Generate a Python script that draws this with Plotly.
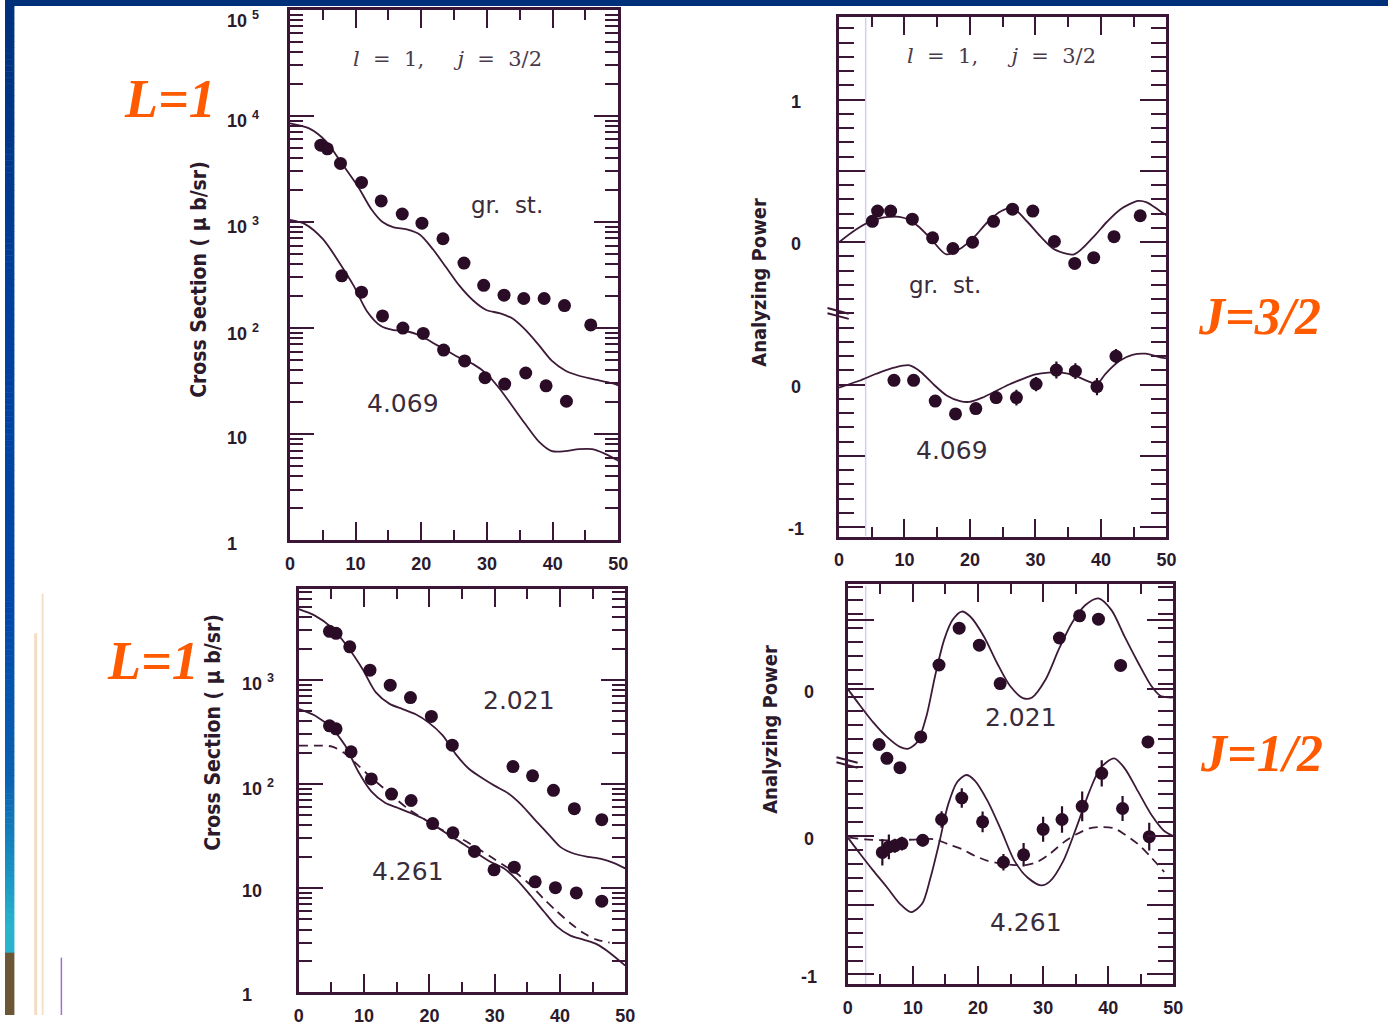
import math
import plotly.graph_objects as go

W, H = 1398, 1026

# ---------------- data ----------------
# Top-left: cross sections, l = 1, j = 3/2
tl_gs_ang = [4.7, 5.7, 7.7, 10.9, 13.9, 17.1, 20.1, 23.3, 26.5, 29.5, 32.6, 35.6, 38.7, 41.8, 45.8]
tl_gs_xs = [5300, 4900, 3570, 2360, 1580, 1190, 975, 695, 410, 253, 204, 190, 190, 163, 107]
tl_gs_fit_ang = [0, 3, 5.5, 7.7, 10.4, 12.4, 14.1, 15.8, 17.8, 19.8, 21.8, 23.8, 25.8, 27.9,
                 29.9, 31.9, 33.9, 35.9, 37.9, 39.9, 41.9, 44.0, 46.0, 49, 50]
tl_gs_fit = [8510, 7590, 5750, 3720, 2140, 1320, 1000, 891, 851, 759, 550, 372, 251, 182,
             148, 138, 123, 95.5, 69, 49, 39.8, 35.5, 33.1, 30.2, 28.8]

tl_ex_ang = [7.9, 10.9, 14.1, 17.2, 20.3, 23.4, 26.6, 29.7, 32.7, 35.9, 39.0, 42.1]
tl_ex_xs = [311, 218, 130, 100, 89, 62, 49, 34, 29.6, 37.7, 28.5, 20.4]
tl_ex_fit_ang = [0, 2.3, 5.0, 7.7, 9.7, 11.7, 13.8, 15.8, 17.8, 19.8, 21.8, 23.8, 25.8, 27.9,
                 29.9, 31.9, 33.9, 35.9, 37.9, 39.9, 41.9, 44.0, 46.0, 48.0, 50]
tl_ex_fit = [1047, 955, 692, 398, 251, 145, 105, 95.5, 93.3, 85.1, 72.4, 61.7, 52.5, 45.7,
             37.2, 26.9, 18.2, 12.3, 8.5, 6.9, 6.9, 7.2, 7.2, 6.5, 5.6]

# Top-right: analyzing power, l = 1, j = 3/2 (upper set shifted by TR_SHIFT)
TR_SHIFT = 1.0
tr_gs_ang = [5.1, 5.9, 7.9, 11.2, 14.3, 17.4, 20.4, 23.6, 26.5, 29.6, 32.9, 36.0, 38.9, 42.0, 46.0]
tr_gs_ap = [0.147, 0.219, 0.219, 0.162, 0.031, -0.044, 0.0, 0.147, 0.232, 0.219, 0.005,
            -0.149, -0.108, 0.039, 0.186]
tr_gs_fit_ang = [0, 2.6, 5.3, 7.9, 10.0, 12.0, 14.0, 16.4, 18.7, 20.7, 22.7, 24.8, 26.5, 28.8,
                 30.8, 32.9, 35.9, 38.9, 40.9, 43.0, 45.7, 47.0, 49.0, 50]
tr_gs_fit = [0.0, 0.09, 0.155, 0.18, 0.17, 0.116, 0.026, -0.085, -0.04, 0.039, 0.142, 0.219,
             0.24, 0.142, 0.039, -0.05, -0.085, 0.039, 0.142, 0.232, 0.29, 0.28, 0.22, 0.19]

tr_ex_ang = [8.4, 11.4, 14.7, 17.8, 20.9, 24.0, 27.1, 30.1, 33.2, 36.1, 39.4, 42.3]
tr_ex_ap = [0.031, 0.031, -0.115, -0.205, -0.167, -0.09, -0.09, 0.005, 0.103, 0.095, -0.013, 0.2]
tr_ex_err = [0.03, 0.03, 0.035, 0.035, 0.035, 0.045, 0.055, 0.05, 0.06, 0.055, 0.06, 0.05]
tr_ex_fit_ang = [0, 3.0, 5.7, 8.4, 10.8, 12.5, 14.5, 16.5, 18.5, 19.9, 21.9, 23.9, 25.9, 27.9,
                 30.0, 32.0, 34.0, 36.0, 38.0, 39.4, 40.7, 42.8, 44.8, 46.8, 49.2, 50]
tr_ex_fit = [-0.02, 0.026, 0.077, 0.12, 0.136, 0.09, 0.0, -0.077, -0.115, -0.12, -0.09, -0.046,
             0.0, 0.038, 0.072, 0.085, 0.085, 0.064, 0.026, 0.005, 0.077, 0.167, 0.21, 0.218,
             0.19, 0.185]

# Bottom-left: cross sections, j = 1/2 states
bl_a_ang = [4.7, 5.7, 7.8, 10.9, 14.0, 17.1, 20.3, 23.5, 32.8, 35.8, 39.0, 42.2, 46.4]
bl_a_xs = [2930, 2800, 2080, 1240, 890, 677, 446, 236, 147, 120, 87, 58, 45.5]
bl_a_fit_ang = [0, 2.4, 5.1, 7.8, 9.8, 11.8, 13.9, 15.9, 17.9, 19.9, 22.0, 24.0, 26.0, 28.0,
                30.1, 32.1, 34.1, 36.1, 38.2, 40.2, 42.2, 44.3, 46.3, 48.3, 50]
bl_a_fit = [4790, 4170, 3160, 1950, 1260, 759, 589, 525, 468, 389, 295, 195, 141, 115,
            95.5, 81.3, 63.1, 45.7, 33.1, 24.5, 21.4, 20.0, 19.1, 17.4, 15.5]

bl_b_ang = [4.7, 5.7, 8.0, 11.1, 14.2, 17.2, 20.5, 23.6, 26.9, 29.9, 33.0, 36.2, 39.3, 42.5, 46.4]
bl_b_xs = [362, 339, 204, 112, 80, 69.5, 41.7, 34, 22.5, 15, 15.9, 11.5, 10.1, 9.0, 7.5]
bl_b_fit_ang = [0, 2.4, 5.1, 7.1, 9.1, 11.1, 13.2, 15.2, 17.2, 19.3, 21.3, 23.3, 25.3, 27.4,
                29.4, 31.4, 33.4, 35.5, 37.5, 39.5, 41.6, 43.6, 45.6, 47.6, 50]
bl_b_fit = [525, 457, 339, 234, 132, 85.1, 66.1, 58.9, 52.5, 45.7, 38.0, 31.6, 26.3, 21.4,
            17.8, 15.5, 12.0, 8.5, 6.0, 4.3, 3.5, 3.2, 2.9, 2.4, 1.8]
bl_b_alt_ang = [0, 2.4, 5.1, 7.1, 9.1, 11.1, 13.2, 15.2, 17.2, 19.3, 21.3, 23.3, 25.3, 27.4,
                29.4, 31.4, 33.4, 35.5, 37.5, 39.5, 41.6, 43.6, 45.6, 47.6]
bl_b_alt = [234, 234, 229, 195, 151, 115, 89, 69, 55, 45.7, 38, 33.1, 28.8, 24,
            20, 16.6, 13.8, 10.7, 7.9, 6.0, 4.6, 3.7, 3.2, 3.0]

# Bottom-right: analyzing power, j = 1/2 states (upper set shifted by BR_SHIFT)
BR_SHIFT = 1.06
br_a_ang = [4.8, 6.0, 8.0, 11.2, 14.0, 17.1, 20.2, 23.4, 32.5, 35.6, 38.5, 41.9, 46.1]
br_a_ap = [-0.40, -0.50, -0.567, -0.345, 0.174, 0.44, 0.317, 0.04, 0.369, 0.529, 0.505,
           0.171, -0.381]
br_a_fit_ang = [0, 1.9, 3.9, 6.0, 8.0, 9.3, 10.7, 12.1, 13.4, 14.8, 16.1, 17.5, 18.8, 20.9,
                22.9, 24.9, 27.0, 28.3, 30.4, 32.4, 34.4, 36.5, 38.5, 40.5, 42.5, 44.6, 46.6,
                48.0, 49.3, 50]
br_a_fit = [0, -0.12, -0.24, -0.345, -0.417, -0.43, -0.38, -0.19, 0.095, 0.357, 0.5, 0.56,
            0.524, 0.38, 0.19, 0.024, -0.067, -0.06, 0.071, 0.286, 0.476, 0.607, 0.655, 0.57,
            0.38, 0.19, 0.024, -0.048, -0.06, -0.06]

br_b_ang = [5.3, 6.3, 7.2, 8.3, 11.5, 14.4, 17.5, 20.7, 23.9, 27.0, 30.0, 32.9, 36.0, 39.0,
            42.2, 46.3]
br_b_ap = [-0.119, -0.079, -0.071, -0.055, -0.031, 0.119, 0.274, 0.102, -0.19, -0.136, 0.048,
           0.119, 0.214, 0.452, 0.198, -0.005]
br_b_err = [0.095, 0.09, 0.05, 0.05, 0.045, 0.06, 0.07, 0.075, 0.06, 0.085, 0.09, 0.095,
            0.107, 0.095, 0.09, 0.1]
br_b_fit_ang = [0, 1.9, 3.9, 6.0, 8.0, 9.7, 11.4, 12.7, 14.1, 15.4, 16.8, 18.2, 19.5, 21.5,
                23.6, 25.6, 27.6, 29.7, 31.0, 33.1, 35.1, 37.1, 38.8, 40.9, 42.5, 44.6, 46.6,
                48.6, 50]
br_b_fit = [-0.012, -0.13, -0.25, -0.37, -0.49, -0.55, -0.49, -0.30, -0.036, 0.226, 0.39, 0.44,
            0.40, 0.25, 0.036, -0.18, -0.30, -0.357, -0.33, -0.18, 0.06, 0.32, 0.49, 0.56,
            0.49, 0.32, 0.155, 0.036, 0.0]
br_b_alt_ang = [0.2, 2.6, 5.3, 8.0, 10.7, 13.4, 15.4, 17.5, 19.5, 21.5, 23.6, 25.6, 27.3, 29.0,
                31.0, 33.1, 35.1, 37.1, 38.8, 40.9, 42.5, 44.6, 46.6, 48.6]
br_b_alt = [-0.012, -0.024, -0.031, -0.031, -0.024, -0.024, -0.06, -0.095, -0.143, -0.18, -0.2,
            -0.21, -0.21, -0.19, -0.13, -0.048, 0.012, 0.055, 0.064, 0.055, 0.012, -0.06,
            -0.155, -0.26]

# tick labels
xs_tick_vals = [1, 10, 100, 1000, 10000, 100000]
xs_tick_text = ["1", "10", "10 <sup>2</sup>", "10 <sup>3</sup>", "10 <sup>4</sup>", "10 <sup>5</sup>"]
angle_ticks = [0, 10, 20, 30, 40, 50]

# ---------------- styling ----------------
INK = "#2a0c27"
FRAME = "#3b1636"
LINE = "#3d1b38"
TXT = "#3a2c3a"
ORANGE = "#ff5a00"
TICKFONT = dict(family="Liberation Sans, Arial, sans-serif", size=18, color="#2b1a2b", weight="bold")
YTICKFONT = dict(family="Liberation Sans, Arial, sans-serif", size=18, color="#2b1a2b", weight="bold")


def px(x):
    return x / W


def py(y):
    return 1 - y / H


fig = go.Figure()


def dots(xa, ya, x, y, err=None, shift=0.0):
    yy = [v + shift for v in y]
    kw = {}
    if err is not None:
        kw["error_y"] = dict(type="data", array=err, color=INK, thickness=2.2, width=0)
    fig.add_trace(go.Scatter(x=x, y=yy, mode="markers", xaxis=xa, yaxis=ya,
                             marker=dict(symbol="circle", size=13, color=INK, line=dict(width=0)),
                             showlegend=False, hoverinfo="skip", **kw))


def curve(xa, ya, x, y, dash="solid", shift=0.0):
    yy = [v + shift for v in y]
    fig.add_trace(go.Scatter(x=x, y=yy, mode="lines", xaxis=xa, yaxis=ya,
                             line=dict(color=LINE, width=1.8, dash=dash, shape="spline", smoothing=0.8),
                             showlegend=False, hoverinfo="skip"))


# top-left
curve("x", "y", tl_gs_fit_ang, tl_gs_fit)
curve("x", "y", tl_ex_fit_ang, tl_ex_fit)
dots("x", "y", tl_gs_ang, tl_gs_xs)
dots("x", "y", tl_ex_ang, tl_ex_xs)

# top-right
curve("x2", "y2", tr_gs_fit_ang, tr_gs_fit, shift=TR_SHIFT)
curve("x2", "y2", tr_ex_fit_ang, tr_ex_fit)
dots("x2", "y2", tr_gs_ang, tr_gs_ap, shift=TR_SHIFT)
dots("x2", "y2", tr_ex_ang, tr_ex_ap, err=tr_ex_err)

# bottom-left
curve("x3", "y3", bl_a_fit_ang, bl_a_fit)
curve("x3", "y3", bl_b_fit_ang, bl_b_fit)
curve("x3", "y3", bl_b_alt_ang, bl_b_alt, dash="9px,6px")
dots("x3", "y3", bl_a_ang, bl_a_xs)
dots("x3", "y3", bl_b_ang, bl_b_xs)

# bottom-right
curve("x4", "y4", br_a_fit_ang, br_a_fit, shift=BR_SHIFT)
curve("x4", "y4", br_b_fit_ang, br_b_fit)
curve("x4", "y4", br_b_alt_ang, br_b_alt, dash="9px,6px")
dots("x4", "y4", br_a_ang, br_a_ap, shift=BR_SHIFT)
dots("x4", "y4", br_b_ang, br_b_ap, err=br_b_err)


def angle_axis(x0, x1, anchor):
    return dict(domain=[px(x0), px(x1)], anchor=anchor, range=[0, 50],
                tickmode="array", tickvals=angle_ticks, ticks="inside", ticklen=18,
                tickwidth=2, tickcolor=FRAME, showline=True, linewidth=3, linecolor=FRAME,
                mirror="ticks", showgrid=False, zeroline=False, tickfont=TICKFONT,
                ticklabelstandoff=5,
                minor=dict(tickvals=[5, 15, 25, 35, 45], ticks="inside", ticklen=10,
                           tickwidth=2, tickcolor=FRAME, showgrid=False))


def log_axis(y0, y1, anchor, top):
    minors = [m * 10 ** k for k in range(0, 5) for m in range(2, 10)]
    return dict(domain=[py(y1), py(y0)], anchor=anchor, type="log", range=[0, top],
                tickmode="array", tickvals=xs_tick_vals, ticks="inside", ticklen=24,
                tickwidth=2, tickcolor=FRAME, showline=True, linewidth=3, linecolor=FRAME,
                mirror="ticks", showgrid=False, zeroline=False, showticklabels=False,
                minor=dict(tickvals=minors, ticks="inside", ticklen=13, tickwidth=2,
                           tickcolor=FRAME, showgrid=False))


def ap_axis(y0, y1, anchor, lo, hi, shift):
    majors = [-1, -0.5, 0, shift, shift + 0.5, shift + 1]
    return dict(domain=[py(y1), py(y0)], anchor=anchor, range=[lo, hi],
                tickmode="array", tickvals=majors, ticks="inside", ticklen=26,
                tickwidth=2, tickcolor=FRAME, showline=True, linewidth=3, linecolor=FRAME,
                mirror="ticks", showgrid=False, zeroline=False, showticklabels=False,
                minor=dict(tick0=0, dtick=0.1, ticks="inside", ticklen=15, tickwidth=2,
                           tickcolor=FRAME, showgrid=False))


fig.update_layout(
    width=W, height=H, margin=dict(l=0, r=0, t=0, b=0),
    paper_bgcolor="white", plot_bgcolor="rgba(0,0,0,0)",
    xaxis=angle_axis(288, 620, "y"),
    yaxis=log_axis(10, 546, "x", 5.0),
    xaxis2=angle_axis(843, 1174, "y2"),
    yaxis2=ap_axis(16.7, 542.6, "x2", -1.067, 2.584, TR_SHIFT),
    xaxis3=angle_axis(297, 627, "y3"),
    yaxis3=log_axis(595, 1003, "x3", 3.877),
    xaxis4=angle_axis(852, 1181, "y4"),
    yaxis4=ap_axis(590, 995, "x4", -1.071, 1.821, BR_SHIFT),
)

ann = []


def label(x, y, text, size=16, color=TXT, family="DejaVu Sans, sans-serif", xanchor="center",
          angle=0, weight="normal", italic=False):
    ann.append(dict(x=px(x), y=py(y), xref="paper", yref="paper", text=text, showarrow=False,
                    xanchor=xanchor, yanchor="middle", textangle=angle,
                    font=dict(family=family, size=size, color=color, weight=weight,
                              style="italic" if italic else "normal")))


# y tick labels of the cross-section panels, placed at the axis values
for v, t in zip(xs_tick_vals, xs_tick_text):
    ann.append(dict(x=px(222), y=math.log10(v), xref="paper", yref="y", text=t,
                    showarrow=False, xanchor="left", yanchor="middle", font=YTICKFONT,
                    yshift=-10 if v == 100000 else -4))
for v, t in zip(xs_tick_vals[:4], xs_tick_text[:4]):
    ann.append(dict(x=px(238), y=math.log10(v), xref="paper", yref="y3", text=t,
                    showarrow=False, xanchor="left", yanchor="middle", font=YTICKFONT,
                    yshift=-3))

# y tick labels of the analyzing-power panels
for v, t in [(TR_SHIFT + 1, "1"), (TR_SHIFT, "0"), (0, "0"), (-1, "-1")]:
    ann.append(dict(x=px(800), y=v, xref="paper", yref="y2", text=t, showarrow=False,
                    xanchor="center", yanchor="middle", font=YTICKFONT, yshift=-2))
for v, t in [(BR_SHIFT, "0"), (0, "0"), (-1, "-1")]:
    ann.append(dict(x=px(813), y=v, xref="paper", yref="y4", text=t, showarrow=False,
                    xanchor="center", yanchor="middle", font=YTICKFONT, yshift=-3))

NARROW = "DejaVu Sans Condensed, Liberation Sans Narrow, Arial Narrow, sans-serif"
label(196, 282, "Cross Section ( \u00b5 b/sr)", size=21, color="#2b1a2b", family=NARROW,
      angle=-90, weight="bold")
label(210, 740, "Cross Section ( \u00b5 b/sr)", size=21, color="#2b1a2b", family=NARROW,
      angle=-90, weight="bold")
label(762, 285, "Analyzing Power", size=20, color="#2b1a2b", family=NARROW, angle=-90,
      weight="bold")
label(773, 737, "Analyzing Power", size=20, color="#2b1a2b", family=NARROW, angle=-90,
      weight="bold")

lj = ("<i>l</i>\u00a0\u00a0=\u00a0\u00a01,\u00a0\u00a0\u00a0\u00a0\u00a0"
      "<i>j</i>\u00a0\u00a0=\u00a0\u00a03/2")
SERIFTXT = "DejaVu Serif, Liberation Serif, serif"
label(447, 60, lj, size=21, color="#4a3a4a", family=SERIFTXT)
label(1007, 57, lj, size=21, color="#4a3a4a", family=SERIFTXT)
label(507, 207, "gr.\u00a0\u00a0st.", size=23)
label(402, 408, "4.069", size=25)
label(950, 288, "gr.\u00a0\u00a0st.", size=23)
label(957, 455, "4.069", size=25)
label(520, 708, "2.021", size=25)
label(407, 881, "4.261", size=25)
label(1027, 725, "2.021", size=25)
label(1032, 932, "4.261", size=25)

SERIF = "Liberation Serif, Times New Roman, serif"
label(167, 100, "L=1", size=54, color=ORANGE, family=SERIF, weight="bold", italic=True)
label(150, 668, "L=1", size=54, color=ORANGE, family=SERIF, weight="bold", italic=True)
label(1268, 320, "J=3/2", size=52, color=ORANGE, family=SERIF, weight="bold", italic=True)
label(1270, 762, "J=1/2", size=52, color=ORANGE, family=SERIF, weight="bold", italic=True)

fig.update_layout(annotations=ann)

# ---------------- decorations ----------------
shapes = []


def hexmix(c1, c2, t):
    a = [int(c1[i:i + 2], 16) for i in (1, 3, 5)]
    b = [int(c2[i:i + 2], 16) for i in (1, 3, 5)]
    return "#%02x%02x%02x" % tuple(round(a[k] + (b[k] - a[k]) * t) for k in range(3))


# slide frame: navy top bar and a blue-to-teal strip down the left edge
stops = [(0, "#00307a"), (300, "#003f9c"), (620, "#0048a8"), (790, "#0a62b2"),
         (880, "#1a92c2"), (935, "#28b4cc"), (963, "#28b4cc")]
for (ya, ca), (yb, cb) in zip(stops[:-1], stops[1:]):
    n = max(1, int((yb - ya) / 6))
    for i in range(n):
        y0 = ya + (yb - ya) * i / n
        y1 = ya + (yb - ya) * (i + 1) / n
        shapes.append(dict(type="rect", xref="paper", yref="paper", x0=0, x1=px(9.5),
                           y0=py(y1 + 0.5), y1=py(y0), line=dict(width=0),
                           fillcolor=hexmix(ca, cb, (i + 0.5) / n), layer="above"))
shapes.append(dict(type="rect", xref="paper", yref="paper", x0=0, x1=px(9.5), y0=0,
                   y1=py(963), line=dict(width=0), fillcolor="#6b5636", layer="above"))
shapes.append(dict(type="rect", xref="paper", yref="paper", x0=0, x1=1, y0=py(6), y1=1,
                   line=dict(width=0), fillcolor="#00307a", layer="above"))

# faint scanner streaks
for x, y0, y1, col, w in [(31, 640, 1026, "#f5dcc4", 3), (38, 600, 1026, "#f4e2c8", 2),
                          (57, 968, 1026, "#a070d0", 1.5),
                          (870, 18, 542, "#d4ccf4", 1.5), (870, 592, 995, "#d4ccf4", 1.5)]:
    shapes.append(dict(type="line", xref="paper", yref="paper", x0=px(x), x1=px(x),
                       y0=py(y0), y1=py(y1), line=dict(color=col, width=w), layer="below"))

# axis-break marks on the analyzing-power scales
for xa, ya, mid in [("x2", "y2", TR_SHIFT / 2), ("x4", "y4", BR_SHIFT / 2)]:
    for d in (-0.018, 0.018):
        shapes.append(dict(type="line", xref=xa + " domain", yref=ya,
                           x0=-0.035, x1=0.03, y0=mid + d + 0.02, y1=mid + d - 0.02,
                           line=dict(color=FRAME, width=2)))

fig.update_layout(shapes=shapes)

fig.write_html("out.html")
